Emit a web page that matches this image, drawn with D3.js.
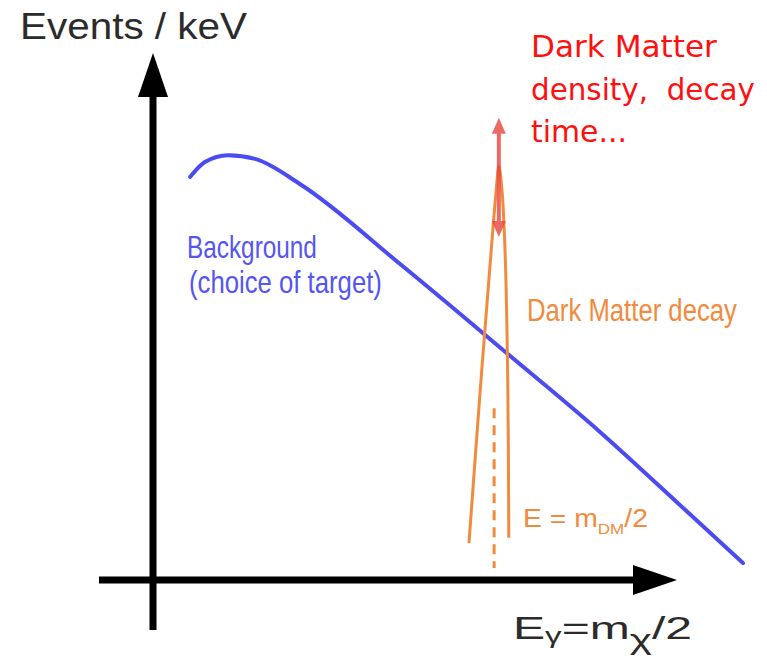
<!DOCTYPE html>
<html>
<head>
<meta charset="utf-8">
<script src="https://cdn.jsdelivr.net/npm/d3@7"></script>
<style>
  html, body { margin: 0; padding: 0; background: #ffffff; }
  svg { display: block; }
</style>
</head>
<body>
<svg id="chart" width="767" height="664"></svg>
<script>
// Background spectrum (arbitrary units, energy vs events/keV)
const bgEnergy = [0.71, 0.99, 1.43, 1.95, 2.81, 4.71, 6.72, 8.53, 10.06, 11.26];
const bgEvents = [7.65, 7.93, 8.06, 7.99, 7.51, 6.0, 4.33, 2.81, 1.42, 0.32];

// Dark-matter decay line (narrow, slightly asymmetric peak)
const peakEnergy = [6.03, 6.26, 6.45, 6.55, 6.6, 6.66, 6.72, 6.77, 6.79];
const peakEvents = [0.7, 3.8, 6.2, 7.4, 7.85, 7.4, 6.2, 3.8, 0.8];

// Line position E = m_DM / 2 (dashed marker) and the up/down uncertainty arrow
const lineEnergy = 6.51;
const lineSpan = [0.23, 3.26];
const arrowEnergy = 6.6;
const arrowSpan = [6.51, 8.77];

// Axis extents (axes cross at the origin and run a little past it)
const xAxisExtent = [-1.03, 10];
const yAxisExtent = [-0.95, 10];

const redLines = ["Dark Matter", "density,  decay", "time..."];

const svg = d3.select("#chart");
const x = d3.scaleLinear().domain([0, 10]).range([153, 677]);
const y = d3.scaleLinear().domain([0, 10]).range([580, 53]);

const blue = "#4b4bf2";
const orange = "#f28a3e";

// Place a text element at (px, py) and squeeze/stretch it horizontally to a given width.
function fitText(sel, px, py, width) {
  const natural = sel.node().getComputedTextLength();
  const k = width / natural;
  sel.attr("x", 0).attr("y", 0)
    .attr("transform", `translate(${px},${py}) scale(${k},1)`);
  return sel;
}

// ---- axes with arrowheads ----
const axisW = 7, headHalf = 15, headLen = 44;
const ax = svg.append("g").attr("fill", "#000").attr("stroke", "#000");
ax.append("line")
  .attr("x1", x(xAxisExtent[0])).attr("x2", x(xAxisExtent[1]) - headLen)
  .attr("y1", y(0)).attr("y2", y(0)).attr("stroke-width", axisW);
ax.append("path").attr("stroke", "none")
  .attr("d", `M${x(xAxisExtent[1])},${y(0)} L${x(xAxisExtent[1]) - headLen},${y(0) - headHalf} L${x(xAxisExtent[1]) - headLen},${y(0) + headHalf} Z`);
ax.append("line")
  .attr("x1", x(0)).attr("x2", x(0))
  .attr("y1", y(yAxisExtent[0])).attr("y2", y(yAxisExtent[1]) + headLen)
  .attr("stroke-width", axisW);
ax.append("path").attr("stroke", "none")
  .attr("d", `M${x(0)},${y(yAxisExtent[1])} L${x(0) - headHalf},${y(yAxisExtent[1]) + headLen} L${x(0) + headHalf},${y(yAxisExtent[1]) + headLen} Z`);

// ---- background curve ----
const bg = bgEnergy.map((e, i) => [e, bgEvents[i]]);
svg.append("path")
  .datum(bg)
  .attr("fill", "none").attr("stroke", blue).attr("stroke-width", 4)
  .attr("stroke-linecap", "round")
  .attr("d", d3.line().x(d => x(d[0])).y(d => y(d[1])).curve(d3.curveMonotoneX));

// ---- dark matter peak ----
const pk = peakEnergy.map((e, i) => [e, peakEvents[i]]);
svg.append("path")
  .datum(pk)
  .attr("fill", "none").attr("stroke", orange).attr("stroke-width", 3)
  .attr("d", d3.line().x(d => x(d[0])).y(d => y(d[1])).curve(d3.curveCatmullRom.alpha(0.5)));

svg.append("line")
  .attr("x1", x(lineEnergy)).attr("x2", x(lineEnergy))
  .attr("y1", y(lineSpan[1])).attr("y2", y(lineSpan[0]))
  .attr("stroke", orange).attr("stroke-width", 3)
  .attr("stroke-dasharray", "10,7");

// ---- double-headed red arrow ----
const ar = svg.append("g").attr("opacity", 0.8);
const aX = x(arrowEnergy), aTop = y(arrowSpan[1]), aBot = y(arrowSpan[0]);
ar.append("line").attr("x1", aX).attr("x2", aX).attr("y1", aTop + 12).attr("y2", aBot - 12)
  .attr("stroke", "#e8463e").attr("stroke-width", 4);
ar.append("path").attr("fill", "#e8463e")
  .attr("d", `M${aX},${aTop} L${aX - 7},${aTop + 16} L${aX + 7},${aTop + 16} Z`);
ar.append("path").attr("fill", "#e8463e")
  .attr("d", `M${aX},${aBot} L${aX - 7},${aBot - 16} L${aX + 7},${aBot - 16} Z`);

// ---- texts ----
fitText(svg.append("text")
  .attr("font-family", "'Liberation Sans', Arial, sans-serif")
  .attr("font-size", 37).attr("fill", "#2b2b2b")
  .text("Events / keV"), 20, 39, 227);

const redLens = [186, 224, 96];
const redBase = [57, 100, 142];
redLines.forEach((t, i) => {
  fitText(svg.append("text")
    .attr("font-family", "'DejaVu Sans', sans-serif")
    .attr("font-size", 30).attr("fill", "#ff1010")
    .style("white-space", "pre")
    .text(t), 531, redBase[i], redLens[i]);
});

const blueTxt = svg.append("g")
  .attr("font-family", "'Liberation Sans', Arial, sans-serif")
  .attr("font-size", 31).attr("fill", "#5555f0");
fitText(blueTxt.append("text").text("Background"), 187, 258, 130);
fitText(blueTxt.append("text").text("(choice of target)"), 189, 293, 193);

fitText(svg.append("text")
  .attr("font-family", "'Liberation Sans', Arial, sans-serif")
  .attr("font-size", 31).attr("fill", orange)
  .text("Dark Matter decay"), 527, 321, 210);

// E = m_DM / 2
const eLbl = svg.append("text")
  .attr("font-family", "'Liberation Sans', Arial, sans-serif")
  .attr("font-size", 25).attr("fill", orange);
eLbl.append("tspan").text("E = m");
eLbl.append("tspan").attr("font-size", 15).attr("dy", 7).text("DM");
eLbl.append("tspan").attr("dy", -7).text("/2");
fitText(eLbl, 523, 527, 125);

// x-axis title E_γ = m_χ / 2
const xLbl = svg.append("text")
  .attr("font-family", "'Liberation Sans', Arial, sans-serif")
  .attr("font-size", 32).attr("fill", "#2b2b2b");
xLbl.append("tspan").text("E");
xLbl.append("tspan").attr("font-size", 22).attr("dy", 4).text("γ");
xLbl.append("tspan").attr("dy", -4).text("=m");
xLbl.append("tspan").attr("font-size", 28).attr("dy", 10).text("χ");
xLbl.append("tspan").attr("dy", -10).text("/2");
fitText(xLbl, 513, 639, 179);
</script>
</body>
</html>
